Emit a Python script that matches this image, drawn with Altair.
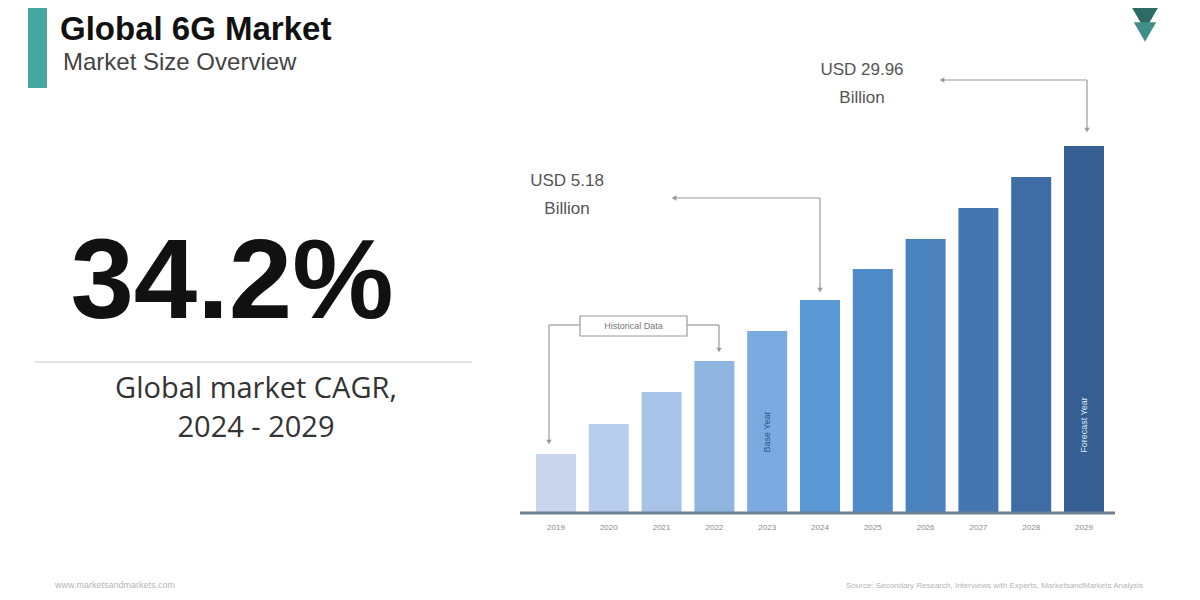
import altair as alt
import pandas as pd

# ---- data ----
years = ["2019", "2020", "2021", "2022", "2023", "2024", "2025", "2026", "2027", "2028", "2029"]
# relative bar heights (bars are illustrative, not to scale)
bar_heights = [58, 88, 120, 151, 181, 212, 243, 273, 304, 335, 366]
bar_colors = ["#c9d6ee", "#b9cdee", "#a8c3e8", "#8fb4e0", "#7aaae0", "#5b98d6",
              "#4f8bc9", "#4a82bd", "#4477b1", "#3e6ca5", "#355f93"]
base_year_label = ("2023", "Base Year")
forecast_year_label = ("2029", "Forecast Year")

title_text = "Global 6G Market"
subtitle_text = "Market Size Overview"
cagr_value = "34.2%"
cagr_lines = ["Global market CAGR,", "2024 - 2029"]
callout_2024 = ["USD 5.18", "Billion"]
callout_2029 = ["USD 29.96", "Billion"]
hist_label = "Historical Data"
footer_left = "www.marketsandmarkets.com"
footer_right = "Source: Secondary Research, Interviews with Experts, MarketsandMarkets Analysis"

df = pd.DataFrame({"year": years, "height": bar_heights})

W, H = 1184, 584
OFF = 8  # page margin


def px(v):
    return v - OFF


one = alt.Data(values=[{}])


def xband(**kw):
    return alt.X("year:N", axis=None, sort=years,
                 scale=alt.Scale(domain=years, range=[px(536), px(1104)],
                                 paddingInner=0.2424, paddingOuter=0), **kw)


y_enc = alt.Y("height:Q", axis=None,
              scale=alt.Scale(domain=[0, 366], range=[px(512), px(146)]))

bars = alt.Chart(df).mark_bar().encode(
    x=xband(), y=y_enc,
    color=alt.Color("year:N", scale=alt.Scale(domain=years, range=bar_colors), legend=None),
)

year_labels = alt.Chart(df).mark_text(fontSize=8, color="#8a8a8a", baseline="middle",
                                      font="Liberation Sans").encode(
    x=xband(bandPosition=0.5),
    y=alt.value(px(528)),
    text="year:N",
)


def in_bar(pair, color, y):
    d = pd.DataFrame({"year": [pair[0]], "label": [pair[1]]})
    return alt.Chart(d).mark_text(angle=270, fontSize=9, baseline="middle", align="center",
                                  font="Liberation Sans", color=color).encode(
        x=xband(bandPosition=0.5), y=alt.value(px(y)), text="label:N")


base_text = in_bar(base_year_label, "#2a5a92", 432)
fc_text = in_bar(forecast_year_label, "#dce8f7", 425)


def rule(x1, y1, x2, y2, color="#9a9a9a", width=1.2):
    return alt.Chart(one).mark_rule(color=color, strokeWidth=width).encode(
        x=alt.value(px(x1)), x2=alt.value(px(x2)), y=alt.value(px(y1)), y2=alt.value(px(y2)))


def text(t, x, y, size, color="#222", weight="normal", align="left", font="Liberation Sans",
         baseline="alphabetic"):
    return alt.Chart(one).mark_text(text=t, fontSize=size, color=color, fontWeight=weight,
                                    align=align, font=font, baseline=baseline).encode(
        x=alt.value(px(x)), y=alt.value(px(y)))


def head(x, y, shape, color="#9a9a9a", size=30):
    return alt.Chart(one).mark_point(shape=shape, filled=True, color=color, size=size, opacity=1).encode(
        x=alt.value(px(x)), y=alt.value(px(y)))


layers = []
# teal accent bar
layers.append(alt.Chart(one).mark_rect(color="#45a79f").encode(
    x=alt.value(px(28)), x2=alt.value(px(47)), y=alt.value(0), y2=alt.value(px(88))))
layers.append(text(title_text, 60, 40, 33, "#111", "bold"))
layers.append(text(subtitle_text, 63, 70, 24, "#444"))
layers.append(text(cagr_value, 232, 318, 114, "#111", "bold", "center"))
layers.append(rule(35, 362, 472, 362, "#c4c4c4", 1))
layers.append(text(cagr_lines[0], 256, 398, 29, "#333", "normal", "center", "Open Sans"))
layers.append(text(cagr_lines[1], 256, 437, 29, "#333", "normal", "center", "Open Sans"))

# baseline
layers.append(rule(520, 513, 1115, 513, "#6f7f92", 3))

# historical data box + connectors
layers.append(rule(549, 325, 580, 325))
layers.append(rule(549, 325, 549, 440))
layers.append(head(549, 442, "triangle-down"))
layers.append(rule(687, 325, 719, 325))
layers.append(rule(719, 325, 719, 348))
layers.append(head(719, 350, "triangle-down"))
layers.append(alt.Chart(one).mark_rect(fill="white", stroke="#9a9a9a", strokeWidth=1.2).encode(
    x=alt.value(px(580)), x2=alt.value(px(687)), y=alt.value(px(316)), y2=alt.value(px(336))))
layers.append(text(hist_label, 633.5, 326, 9, "#777", "normal", "center", baseline="middle"))

# 2024 callout
layers.append(text(callout_2024[0], 567, 186, 17, "#555", "normal", "center"))
layers.append(text(callout_2024[1], 567, 214, 17, "#555", "normal", "center"))
layers.append(rule(674, 198, 820, 198))
layers.append(head(674, 198, "triangle-left"))
layers.append(rule(820, 198, 820, 288))
layers.append(head(820, 290, "triangle-down"))

# 2029 callout
layers.append(text(callout_2029[0], 862, 75, 17, "#555", "normal", "center"))
layers.append(text(callout_2029[1], 862, 103, 17, "#555", "normal", "center"))
layers.append(rule(942, 80, 1087, 80))
layers.append(head(942, 80, "triangle-left"))
layers.append(rule(1087, 80, 1087, 128))
layers.append(head(1087, 130, "triangle-down"))

# logo
layers.append(head(1145, 14, "triangle-down", "#2e6b66", 1400))
layers.append(head(1145, 32, "triangle-down", "#3f8f88", 500))

# footer
layers.append(text(footer_left, 55, 588, 9, "#b5b5b5"))
layers.append(text(footer_right, 1143, 588, 8, "#b5b5b5", "normal", "right"))

chart = alt.layer(bars, year_labels, base_text, fc_text, *layers).properties(
    width=W, height=H, autosize=alt.AutoSizeParams(type="none"), padding=0,
    background="white",
).configure_view(strokeWidth=0)

chart.save("out.html", embed_options={"renderer": "svg", "actions": False})
